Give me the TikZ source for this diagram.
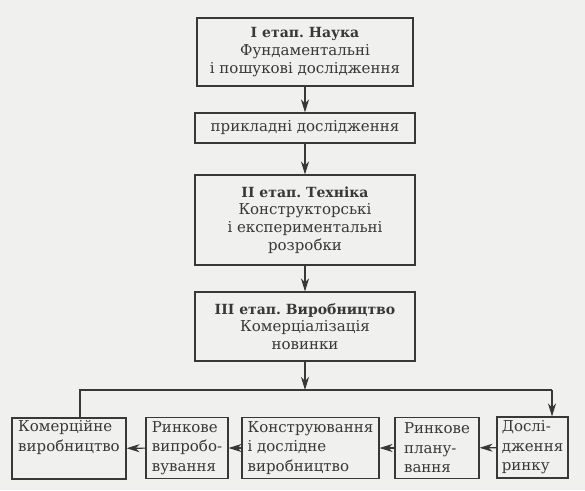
\documentclass[tikz,border=0pt]{standalone}
\usepackage{fontspec}
\setmainfont{DejaVu Serif}
\usetikzlibrary{arrows.meta}
\definecolor{bg}{HTML}{F0F0EE}
\definecolor{ink}{HTML}{383838}
\newcommand{\hd}[1]{{\fontsize{14}{17.5}\selectfont\bfseries #1}}
\begin{document}
\frenchspacing
\begin{tikzpicture}[x=1pt,y=-1pt,
  box/.style={draw=ink, line width=1.1pt, text=ink, inner sep=0pt, align=center,
    font=\fontsize{15}{17.8}\selectfont},
  bbox/.style={box, align=left, font=\fontsize{15}{19.5}\selectfont},
  conn/.style={draw=ink, line width=1.1pt},
  arr/.style={conn, -{Stealth[length=13pt,width=8pt,inset=4pt]}}]
\fill[bg] (0,0) rectangle (585,490);
\useasboundingbox (0,0) rectangle (585,490);
\node[box, minimum width=216pt, minimum height=68pt] (n1) at (305,52)
  {\hd{I етап. Наука}\\Фундаментальні\\і пошукові дослідження};
\node[box, minimum width=220pt, minimum height=30pt] (n2) at (305,128)
  {прикладні дослідження};
\node[box, minimum width=220pt, minimum height=90pt] (n3) at (305,220)
  {\hd{II етап. Техніка}\\Конструкторські\\і експериментальні\\розробки};
\node[box, minimum width=220pt, minimum height=69pt] (n4) at (305,326.5)
  {\hd{III етап. Виробництво}\\Комерціалізація\\новинки};
\node[bbox, minimum width=114pt, minimum height=61pt] (b1) at (69,448.5)
  {Комерційне\\виробництво\\\strut};
\node[bbox, minimum width=82pt, minimum height=61pt] (b2) at (187,448)
  {Ринкове\\випробо-\\вування};
\node[bbox, minimum width=137pt, minimum height=61pt] (b3) at (310.5,448)
  {Конструювання\\і дослідне\\виробництво};
\node[bbox, minimum width=84pt, minimum height=61pt] (b4) at (437,448)
  {Ринкове\\плану-\\вання};
\node[bbox, minimum width=71pt, minimum height=61pt] (b5) at (532.5,447.5)
  {Дослі-\\дження\\ринку};
\coordinate (j) at (305,390);
\coordinate (jl) at (80,390);
\coordinate (jr) at (552,390);
\draw[arr] (n1) -- (n2);
\draw[arr] (n2) -- (n3);
\draw[arr] (n3) -- (n4);
\draw[arr] (n4) -- (j);
\draw[conn] (b1.north -| jl) -- (jl) -- (jr);
\draw[arr] (jr) -- (jr |- b5.north);
\draw[arr] (b5) -- (b4);
\draw[arr] (b4) -- (b3);
\draw[arr] (b3) -- (b2);
\draw[arr] (b2) -- (b1);
\end{tikzpicture}
\end{document}
